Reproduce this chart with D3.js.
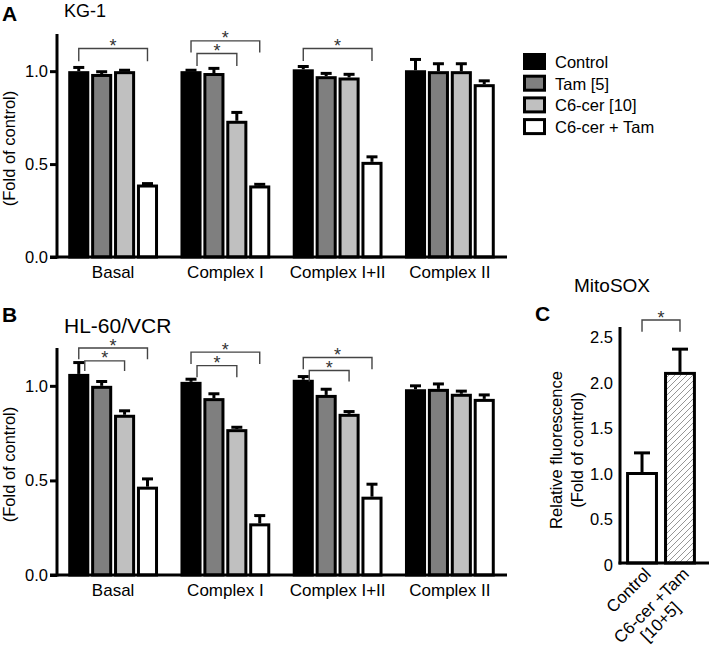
<!DOCTYPE html>
<html>
<head>
<meta charset="utf-8">
<script src="https://cdn.jsdelivr.net/npm/d3@7"></script>
<style>
  html, body { margin: 0; padding: 0; background: #fff; }
  svg { display: block; font-family: "Liberation Sans", Arial, Helvetica, sans-serif; }
</style>
</head>
<body>
<svg id="chart" width="711" height="648"></svg>
<script>
// ---------- DATA ----------
const categories = ["Basal", "Complex I", "Complex I+II", "Complex II"];
const series = ["Control", "Tam [5]", "C6-cer [10]", "C6-cer + Tam"];
const seriesColors = ["#000000", "#7f7f7f", "#c0c0c0", "#ffffff"];

// Panel A: KG-1 (rows = categories, cols = series)
const kg1Means = [
  [1.00, 0.985, 1.00, 0.39],
  [1.00, 0.99, 0.733, 0.385],
  [1.01, 0.973, 0.966, 0.512],
  [1.005, 1.00, 1.00, 0.93]
];
const kg1Errors = [
  [0.02, 0.012, 0.005, 0.005],
  [0.005, 0.025, 0.045, 0.006],
  [0.015, 0.015, 0.017, 0.027],
  [0.058, 0.04, 0.04, 0.018]
];
const kg1Sig = [
  { group: 0, from: 0, to: 3, level: 1.122, drop: 0.068, outer: true },
  { group: 1, from: 0, to: 3, level: 1.163, drop: 0.063, outer: true },
  { group: 1, from: 0, to: 2, level: 1.095, drop: 0.067, outer: false },
  { group: 2, from: 0, to: 3, level: 1.122, drop: 0.067, outer: true }
];

// Panel B: HL-60/VCR
const hlMeans = [
  [1.063, 1.00, 0.847, 0.467],
  [1.021, 0.935, 0.771, 0.273],
  [1.032, 0.952, 0.852, 0.414],
  [0.982, 0.984, 0.958, 0.931]
];
const hlErrors = [
  [0.06, 0.023, 0.021, 0.041],
  [0.014, 0.023, 0.01, 0.041],
  [0.017, 0.03, 0.012, 0.066],
  [0.018, 0.026, 0.014, 0.021]
];
const hlSig = [
  { group: 0, from: 0, to: 3, level: 1.200, drop: 0.059, outer: true },
  { group: 0, from: 0, to: 2, level: 1.132, drop: 0.053, outer: false },
  { group: 1, from: 0, to: 3, level: 1.178, drop: 0.063, outer: true },
  { group: 1, from: 0, to: 2, level: 1.107, drop: 0.061, outer: false },
  { group: 2, from: 0, to: 3, level: 1.150, drop: 0.062, outer: true },
  { group: 2, from: 0, to: 2, level: 1.081, drop: 0.058, outer: false }
];
const foldTicks = [0, 0.5, 1.0];

// Panel C: MitoSOX
const mitoCategories = ["Control", "C6-cer +Tam"];
const mitoSubLabels = ["", "[10+5]"];
const mitoMeans = [1.0, 2.1];
const mitoErrors = [0.21, 0.25];
const mitoTicks = [0, 0.5, 1.0, 1.5, 2.0, 2.5];
const mitoTickLabels = ["0", "0.5", "1.0", "1.5", "2.0", "2.5"];
const mitoSig = [{ from: 0, to: 1, level: 2.67, drop: 0.13 }];

// ---------- DRAW ----------
const svg = d3.select("#chart");

// hatch pattern
const defs = svg.append("defs");
const pat = defs.append("pattern")
  .attr("id", "hatch").attr("patternUnits", "userSpaceOnUse")
  .attr("width", 6).attr("height", 6);
pat.append("rect").attr("width", 6).attr("height", 6).attr("fill", "#fff");
pat.append("path").attr("d", "M-1,1 l2,-2 M0,6 l6,-6 M5,7 l2,-2")
  .attr("stroke", "#8a8a8a").attr("stroke-width", 0.9);

function groupedPanel(cfg) {
  const g = svg.append("g");
  const x0 = d3.scaleBand().domain(categories).range([cfg.x0, cfg.x1])
    .paddingInner(0.2).paddingOuter(0.1);
  const x1 = d3.scaleBand().domain(series).range([0, x0.bandwidth()])
    .paddingInner(0.08).paddingOuter(0);
  const y = d3.scaleLinear().domain([0, 1.2]).range([cfg.yBottom, cfg.yTop]);

  const flat = [];
  categories.forEach((c, i) => series.forEach((s, j) => {
    flat.push({ c, s, j, v: cfg.means[i][j], e: cfg.errors[i][j] });
  }));

  const sw = 3;
  const eb = g.append("g");
  flat.forEach(d => {
    const cx = x0(d.c) + x1(d.s) + x1.bandwidth() / 2;
    eb.append("line").attr("x1", cx).attr("x2", cx)
      .attr("y1", y(d.v)).attr("y2", y(d.v + d.e))
      .attr("stroke", "#000").attr("stroke-width", 3);
    eb.append("line").attr("x1", cx - 5.5).attr("x2", cx + 5.5)
      .attr("y1", y(d.v + d.e)).attr("y2", y(d.v + d.e))
      .attr("stroke", "#000").attr("stroke-width", 3);
  });
  g.append("g").selectAll("rect").data(flat).join("rect")
    .attr("x", d => x0(d.c) + x1(d.s) + sw / 2)
    .attr("width", x1.bandwidth() - sw)
    .attr("y", d => y(d.v) + sw / 2)
    .attr("height", d => y(0) - y(d.v) - sw / 2)
    .attr("fill", d => seriesColors[d.j])
    .attr("stroke", "#000").attr("stroke-width", sw);

  // axes
  const yAxis = d3.axisLeft(y).tickValues(foldTicks).tickFormat(d3.format(".1f"))
    .tickSize(7).tickPadding(2);
  const ya = g.append("g").attr("transform", `translate(${cfg.x0},0)`).call(yAxis);
  ya.select(".domain").remove();
  ya.selectAll(".tick line").attr("stroke-width", 3);
  ya.selectAll(".tick text").attr("font-size", 16.5).attr("fill", "#000")
    .attr("font-family", "Liberation Sans, Arial, sans-serif");
  g.append("line").attr("x1", cfg.x0).attr("x2", cfg.x0)
    .attr("y1", y(0) + 1.5).attr("y2", cfg.yTop).attr("stroke", "#000").attr("stroke-width", 3);
  g.append("line").attr("x1", cfg.x0 - 7).attr("x2", cfg.xAxisEnd)
    .attr("y1", y(0)).attr("y2", y(0)).attr("stroke", "#000").attr("stroke-width", 3);

  // category labels
  g.append("g").selectAll("text").data(categories).join("text")
    .attr("x", d => x0(d) + x0.bandwidth() / 2)
    .attr("y", y(0) + 21)
    .attr("text-anchor", "middle").attr("font-size", 17).text(d => d);

  // y label
  g.append("text")
    .attr("transform", `translate(15,${(y(0) + y(1.2)) / 2 + 3}) rotate(-90)`)
    .attr("text-anchor", "middle").attr("font-size", 16.5).text("(Fold of control)");

  // significance brackets
  const bg = g.append("g");
  cfg.sig.forEach(b => {
    const c = categories[b.group];
    const xa = x0(c) + x1(series[b.from]) + x1.bandwidth() / 2 + (b.outer ? 0 : 6);
    const xb = x0(c) + x1(series[b.to]) + x1.bandwidth() / 2;
    const yl = y(b.level), yd = y(b.level - b.drop);
    bg.append("path")
      .attr("d", `M${xa},${yd}V${yl}H${xb}V${yd}`)
      .attr("fill", "none").attr("stroke", "#444").attr("stroke-width", 1.4);
    bg.append("text").attr("x", (xa + xb) / 2).attr("y", yl + 3.5)
      .attr("text-anchor", "middle").attr("font-size", 18).attr("fill", "#333").text("*");
  });

  // panel letter and title
  g.append("text").attr("x", 2).attr("y", cfg.letterY).attr("font-size", 21)
    .attr("font-weight", "bold").text(cfg.letter);
  g.append("text").attr("x", 64).attr("y", cfg.titleY).attr("font-size", cfg.titleSize)
    .text(cfg.title);
}

groupedPanel({
  x0: 57, x1: 506, xAxisEnd: 507, yBottom: 257, yTop: 34,
  means: kg1Means, errors: kg1Errors, sig: kg1Sig,
  letter: "A", letterY: 21, title: "KG-1", titleY: 17, titleSize: 18
});
groupedPanel({
  x0: 57, x1: 506, xAxisEnd: 507, yBottom: 575, yTop: 348,
  means: hlMeans, errors: hlErrors, sig: hlSig,
  letter: "B", letterY: 322, title: "HL-60/VCR", titleY: 333, titleSize: 21
});

// legend
const leg = svg.append("g");
series.forEach((s, i) => {
  const ty = 53 + i * 21.7;
  leg.append("rect").attr("x", 524.5).attr("y", ty + 1.5).attr("width", 20).attr("height", 14)
    .attr("fill", seriesColors[i]).attr("stroke", "#000").attr("stroke-width", 3);
  leg.append("text").attr("x", 555).attr("y", ty + 15).attr("font-size", 16.5).text(s);
});

// Panel C
(function () {
  const g = svg.append("g");
  const xAxisX = 620;
  const x = d3.scaleBand().domain(mitoCategories).range([xAxisX, 702])
    .paddingInner(0.16).paddingOuter(0.16);
  const y = d3.scaleLinear().domain([0, 2.6]).range([563, 326.4]);
  const sw = 3;
  mitoCategories.forEach((c, i) => {
    const cx = x(c) + x.bandwidth() / 2;
    const top = y(mitoMeans[i] + mitoErrors[i]);
    g.append("line").attr("x1", cx).attr("x2", cx).attr("y1", y(mitoMeans[i])).attr("y2", top)
      .attr("stroke", "#000").attr("stroke-width", 3);
    g.append("line").attr("x1", cx - 8).attr("x2", cx + 8).attr("y1", top).attr("y2", top)
      .attr("stroke", "#000").attr("stroke-width", 3);
  });
  g.selectAll("rect.bar").data(mitoCategories).join("rect")
    .attr("x", d => x(d) + sw / 2).attr("width", x.bandwidth() - sw)
    .attr("y", (d, i) => y(mitoMeans[i]) + sw / 2)
    .attr("height", (d, i) => y(0) - y(mitoMeans[i]) - sw / 2)
    .attr("fill", (d, i) => i === 0 ? "#fff" : "url(#hatch)")
    .attr("stroke", "#000").attr("stroke-width", sw);

  const yAxis = d3.axisLeft(y).tickValues(mitoTicks)
    .tickFormat((d, i) => mitoTickLabels[i]).tickSize(0).tickPadding(7);
  const ya = g.append("g").attr("transform", `translate(${xAxisX},0)`).call(yAxis);
  ya.select(".domain").remove();
  ya.selectAll(".tick text").attr("font-size", 16.5).attr("fill", "#000").attr("dy", "0.45em")
    .attr("font-family", "Liberation Sans, Arial, sans-serif");
  g.append("line").attr("x1", xAxisX).attr("x2", xAxisX).attr("y1", y(0) + 1.5).attr("y2", 327)
    .attr("stroke", "#000").attr("stroke-width", 3);
  g.append("line").attr("x1", xAxisX - 1.5).attr("x2", 709).attr("y1", y(0)).attr("y2", y(0))
    .attr("stroke", "#000").attr("stroke-width", 3);

  // rotated category labels
  mitoCategories.forEach((c, i) => {
    const cx = x(c) + x.bandwidth() / 2 + 10;
    const t = g.append("text").attr("transform", `translate(${cx},575) rotate(-45)`)
      .attr("text-anchor", "end").attr("font-size", 17);
    t.append("tspan").attr("x", 0).attr("y", 0).text(c);
    if (mitoSubLabels[i]) {
      t.append("tspan").attr("x", 0).attr("dx", -30).attr("dy", "1.05em").text(mitoSubLabels[i]);
    }
  });

  // y label (two lines)
  const yl = g.append("text").attr("transform", `translate(562,450) rotate(-90)`)
    .attr("text-anchor", "middle").attr("font-size", 16.5);
  yl.append("tspan").attr("x", 0).attr("y", 0).text("Relative fluorescence");
  yl.append("tspan").attr("x", 0).attr("dy", 21).text("(Fold of control)");

  // bracket
  mitoSig.forEach(b => {
    const xa = x(mitoCategories[b.from]) + x.bandwidth() / 2;
    const xb = x(mitoCategories[b.to]) + x.bandwidth() / 2;
    const ylv = y(b.level), yd = y(b.level - b.drop);
    g.append("path").attr("d", `M${xa},${yd}V${ylv}H${xb}V${yd}`)
      .attr("fill", "none").attr("stroke", "#444").attr("stroke-width", 1.4);
    g.append("text").attr("x", (xa + xb) / 2).attr("y", ylv + 3.5).attr("text-anchor", "middle")
      .attr("font-size", 18).attr("fill", "#333").text("*");
  });

  g.append("text").attr("x", 535).attr("y", 321).attr("font-size", 21)
    .attr("font-weight", "bold").text("C");
  g.append("text").attr("x", 612).attr("y", 292).attr("text-anchor", "middle")
    .attr("font-size", 19).text("MitoSOX");
})();
</script>
</body>
</html>
